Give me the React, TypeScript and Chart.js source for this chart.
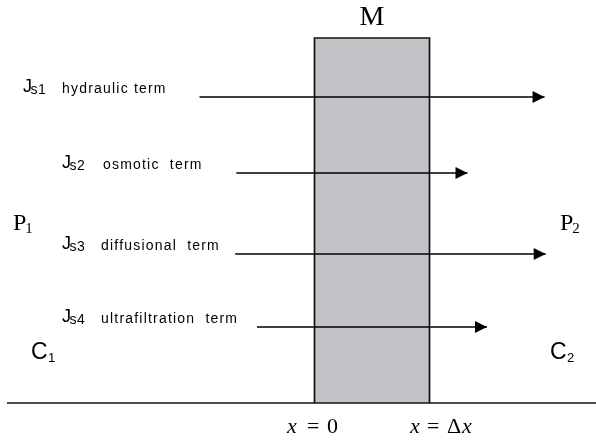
import React, { useEffect, useRef } from "react";
import { Chart, registerables } from "chart.js";

Chart.register(...registerables);

// ---- Data (membrane coordinates: x in units of membrane thickness Δx, y in height above baseline) ----
const fluxSubscripts = ["s1", "s2", "s3", "s4"];
const fluxTerms = ["hydraulic term", "osmotic  term", "diffusional  term", "ultrafiltration  term"];
const fluxLevels = [306, 230, 149, 76];
const fluxStarts = [-1.0, -0.68, -0.69, -0.5];
const fluxEnds = [2.0, 1.33, 2.01, 1.5];
const membraneStart = 0;
const membraneEnd = 1;
const membraneHeight = 365;
const baselineStart = -2.674;
const baselineEnd = 2.448;
const membraneLabel = "M";
const leftSideLabels = [["P", "1"], ["C", "1"]];
const rightSideLabels = [["P", "2"], ["C", "2"]];

const SANS = '"Liberation Sans", Arial, sans-serif';
const SERIF = '"Liberation Serif", "Times New Roman", serif';

function makeArrowHead(): HTMLCanvasElement {
  const c = document.createElement("canvas");
  c.width = 26;
  c.height = 14;
  const g = c.getContext("2d")!;
  g.fillStyle = "#000";
  g.beginPath();
  g.moveTo(13, 7);
  g.lineTo(1, 1);
  g.lineTo(1, 13);
  g.closePath();
  g.fill();
  return c;
}

const textPlugin = {
  id: "diagramText",
  afterDatasetsDraw(chart: any) {
    const ctx: CanvasRenderingContext2D = chart.ctx;
    const xs = chart.scales.x;
    const ys = chart.scales.y;
    const setLS = (v: string) => {
      (ctx as any).letterSpacing = v;
    };
    ctx.save();
    ctx.fillStyle = "#000";
    ctx.textBaseline = "alphabetic";
    ctx.textAlign = "left";

    const jX = [23, 62, 62, 62];
    const labelX = [62, 103, 101, 101];
    fluxTerms.forEach((term, i) => {
      const y = ys.getPixelForValue(fluxLevels[i]) - 5;
      ctx.font = `18px ${SANS}`;
      setLS("0px");
      ctx.fillText("J", jX[i], y);
      const jw = ctx.measureText("J").width;
      ctx.font = `14px ${SANS}`;
      setLS("0.5px");
      ctx.fillText(fluxSubscripts[i], jX[i] + jw - 1.5, y + 2);
      ctx.font = `14px ${SANS}`;
      setLS("1.2px");
      ctx.fillText(term, labelX[i], y + 1);
    });
    setLS("0px");

    // Membrane label
    ctx.font = `28px ${SERIF}`;
    ctx.textAlign = "center";
    ctx.fillText(membraneLabel, xs.getPixelForValue((membraneStart + membraneEnd) / 2), ys.getPixelForValue(membraneHeight) - 13);
    ctx.textAlign = "left";

    // Side labels
    const sides = [
      { labels: leftSideLabels, px: [13, 31] },
      { labels: rightSideLabels, px: [560, 550] },
    ];
    sides.forEach((s) => {
      ctx.font = `24px ${SERIF}`;
      ctx.fillText(s.labels[0][0], s.px[0], 230);
      const pw = ctx.measureText(s.labels[0][0]).width;
      ctx.font = `15px ${SERIF}`;
      ctx.fillText(s.labels[0][1], s.px[0] + pw - 1, 233);
      ctx.font = `23px ${SANS}`;
      ctx.fillText(s.labels[1][0], s.px[1], 359);
      const cw = ctx.measureText(s.labels[1][0]).width;
      ctx.font = `13px ${SANS}`;
      ctx.fillText(s.labels[1][1], s.px[1] + cw + 0.5, 362);
    });

    // Boundary labels
    const base = 433;
    const x0 = xs.getPixelForValue(membraneStart);
    const x1 = xs.getPixelForValue(membraneEnd);
    const italic = `italic 22px ${SERIF}`;
    const upright = `22px ${SERIF}`;
    const parts: [string, string, number][] = [
      ["x", italic, x0 - 27.5],
      ["=", upright, x0 - 7.5],
      ["0", upright, x0 + 12.5],
      ["x", italic, x1 - 19.5],
      ["=", upright, x1 - 2.5],
      ["Δ", upright, x1 + 17.5],
      ["x", italic, x1 + 32.5],
    ];
    parts.forEach(([t, f, px]) => {
      ctx.font = f;
      ctx.fillText(t, px, base);
    });
    ctx.restore();
  },
};

export default function App() {
  const ref = useRef<HTMLCanvasElement | null>(null);
  useEffect(() => {
    if (!ref.current) return;
    const arrowHead = makeArrowHead();
    const arrowSets = fluxTerms.map((t, i) => ({
      label: t,
      data: [
        { x: fluxStarts[i], y: fluxLevels[i] },
        { x: fluxEnds[i], y: fluxLevels[i] },
      ],
      showLine: true,
      borderColor: "#000",
      borderWidth: 1.7,
      pointRadius: [0, 7],
      pointStyle: arrowHead as any,
      pointBackgroundColor: "#000",
      fill: false,
      order: 1,
    }));
    const chart = new Chart(ref.current, {
      type: "scatter",
      data: {
        datasets: [
          {
            label: "membrane",
            data: [
              { x: membraneStart, y: membraneHeight },
              { x: membraneEnd, y: membraneHeight },
            ],
            showLine: true,
            borderWidth: 0,
            borderColor: "rgba(0,0,0,0)",
            backgroundColor: "#c3c2c7",
            fill: "origin",
            pointRadius: 0,
            order: 10,
          } as any,
          {
            label: "membrane outline",
            data: [
              { x: membraneStart, y: 0 },
              { x: membraneStart, y: membraneHeight },
              { x: membraneEnd, y: membraneHeight },
              { x: membraneEnd, y: 0 },
            ],
            showLine: true,
            borderColor: "#111",
            borderWidth: 1.7,
            pointRadius: 0,
            fill: false,
            order: 5,
          },
          {
            label: "baseline",
            data: [
              { x: baselineStart, y: 0 },
              { x: baselineEnd, y: 0 },
            ],
            showLine: true,
            borderColor: "#111",
            borderWidth: 1.7,
            pointRadius: 0,
            fill: false,
            order: 5,
          },
          ...arrowSets,
        ],
      },
      options: {
        animation: false,
        responsive: false,
        devicePixelRatio: 1,
        layout: { padding: 0, autoPadding: false },
        plugins: {
          legend: { display: false },
          tooltip: { enabled: false },
        },
        elements: { line: { tension: 0, borderCapStyle: "butt" } },
        scales: {
          x: { type: "linear", display: false, min: -2.7348, max: 2.4478 },
          y: { type: "linear", display: false, min: -37, max: 403 },
        },
      },
      plugins: [textPlugin],
    });
    return () => chart.destroy();
  }, []);
  return (
    <div style={{ position: "fixed", left: 0, top: 0, width: 596, height: 440, background: "#fff" }}>
      <canvas ref={ref} width={596} height={440} style={{ display: "block" }} />
    </div>
  );
}
